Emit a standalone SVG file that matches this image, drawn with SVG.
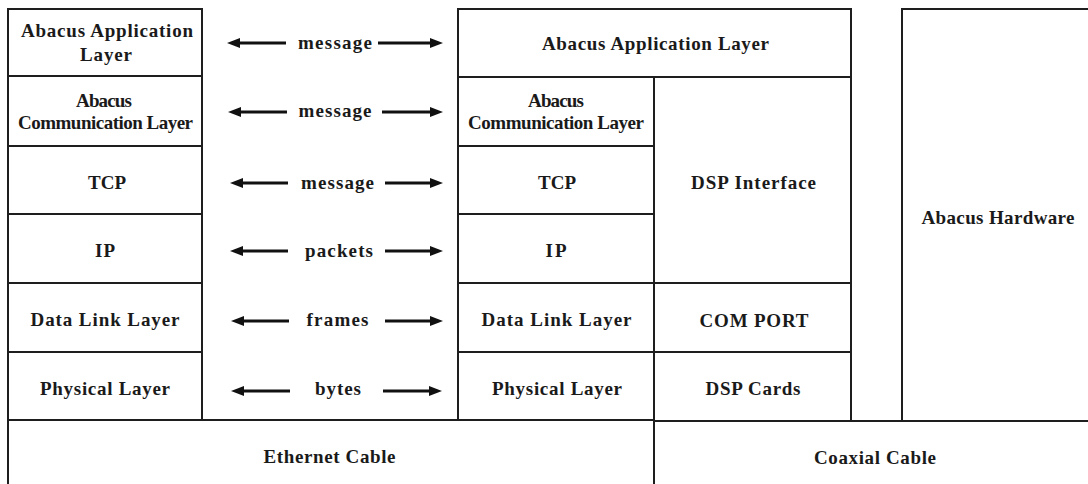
<svg xmlns="http://www.w3.org/2000/svg" width="1088" height="484" viewBox="0 0 1088 484">
<defs>
<style>
.box{fill:#fff;stroke:#1e1e1e;stroke-width:2}
.t{font-family:"Liberation Serif","Times New Roman",serif;font-weight:bold;font-size:19px;fill:#1a1a1a;text-anchor:middle}
.arr{stroke:#111;stroke-width:3;fill:none;marker-end:url(#ah)}
</style>
<marker id="ah" markerUnits="userSpaceOnUse" markerWidth="14" markerHeight="11" refX="2" refY="5" orient="auto">
<path d="M0,0 L13,5 L0,10 z" fill="#111"/>
</marker>
</defs>
<rect width="1088" height="484" fill="#fff"/>

<!-- left stack -->
<g id="l-app"><rect class="box" x="8" y="9" width="194" height="67"/>
<text class="t" x="107" y="37" textLength="172">Abacus Application</text>
<text class="t" x="106" y="61" textLength="52">Layer</text></g>
<g id="l-comm"><rect class="box" x="8" y="76" width="194" height="70"/>
<text class="t" x="104" y="106.5" textLength="56">Abacus</text>
<text class="t" x="105.5" y="128.5" textLength="175">Communication Layer</text></g>
<g id="l-tcp"><rect class="box" x="8" y="146" width="194" height="68"/>
<text class="t" x="107" y="189" textLength="38">TCP</text></g>
<g id="l-ip"><rect class="box" x="8" y="214" width="194" height="69"/>
<text class="t" x="105" y="257" textLength="20">IP</text></g>
<g id="l-dll"><rect class="box" x="8" y="283" width="194" height="69"/>
<text class="t" x="105" y="326" textLength="149">Data Link Layer</text></g>
<g id="l-phy"><rect class="box" x="8" y="352" width="194" height="68"/>
<text class="t" x="105" y="394.5" textLength="130">Physical Layer</text></g>

<!-- right stack -->
<g id="r-app"><rect class="box" x="458" y="9" width="393" height="68"/>
<text class="t" x="655.5" y="49.5" textLength="227">Abacus Application Layer</text></g>
<g id="r-comm"><rect class="box" x="458" y="77" width="196" height="69"/>
<text class="t" x="556" y="106.5" textLength="56">Abacus</text>
<text class="t" x="556" y="128.5" textLength="176">Communication Layer</text></g>
<g id="r-tcp"><rect class="box" x="458" y="146" width="196" height="68"/>
<text class="t" x="557" y="189" textLength="38">TCP</text></g>
<g id="r-ip"><rect class="box" x="458" y="214" width="196" height="69"/>
<text class="t" x="556" y="257" textLength="21">IP</text></g>
<g id="r-dll"><rect class="box" x="458" y="283" width="196" height="69"/>
<text class="t" x="556.5" y="326" textLength="150">Data Link Layer</text></g>
<g id="r-phy"><rect class="box" x="458" y="352" width="196" height="68"/>
<text class="t" x="557" y="394.5" textLength="130">Physical Layer</text></g>
<g id="dsp-if"><rect class="box" x="654" y="77" width="197" height="206"/>
<text class="t" x="753.5" y="189" textLength="125">DSP Interface</text></g>
<g id="com-port"><rect class="box" x="654" y="283" width="197" height="69"/>
<text class="t" x="754" y="326.5" textLength="109">COM PORT</text></g>
<g id="dsp-cards"><rect class="box" x="654" y="352" width="197" height="69"/>
<text class="t" x="753" y="395" textLength="95">DSP Cards</text></g>
<g id="hardware"><rect class="box" x="902" y="9" width="200" height="412"/>
<text class="t" x="998" y="223.5" textLength="153">Abacus Hardware</text></g>

<!-- cables -->
<g id="ethernet"><rect class="box" x="8" y="420" width="646" height="80"/>
<text class="t" x="329.5" y="463" textLength="132">Ethernet Cable</text></g>
<g id="coax"><rect class="box" x="654" y="421" width="450" height="80"/>
<text class="t" x="875" y="464" textLength="122">Coaxial Cable</text></g>

<!-- connectors -->
<g id="connectors">
<line class="arr" x1="286" y1="43" x2="238" y2="43"/>
<line class="arr" x1="378" y1="43" x2="432" y2="43"/>
<text class="t" x="335" y="48.5" textLength="74">message</text>

<line class="arr" x1="287" y1="112" x2="239" y2="112"/>
<line class="arr" x1="382" y1="112" x2="432" y2="112"/>
<text class="t" x="335" y="117" textLength="73">message</text>

<line class="arr" x1="288" y1="183" x2="241" y2="183"/>
<line class="arr" x1="385" y1="183" x2="432" y2="183"/>
<text class="t" x="337.5" y="189" textLength="73">message</text>

<line class="arr" x1="288" y1="251" x2="241" y2="251"/>
<line class="arr" x1="385" y1="251" x2="432" y2="251"/>
<text class="t" x="339" y="257" textLength="68">packets</text>

<line class="arr" x1="289" y1="321" x2="242" y2="321"/>
<line class="arr" x1="385" y1="321" x2="432" y2="321"/>
<text class="t" x="337.5" y="326" textLength="62">frames</text>

<line class="arr" x1="290" y1="391" x2="242" y2="391"/>
<line class="arr" x1="383" y1="391" x2="431" y2="391"/>
<text class="t" x="338" y="395" textLength="46">bytes</text>
</g>
</svg>
